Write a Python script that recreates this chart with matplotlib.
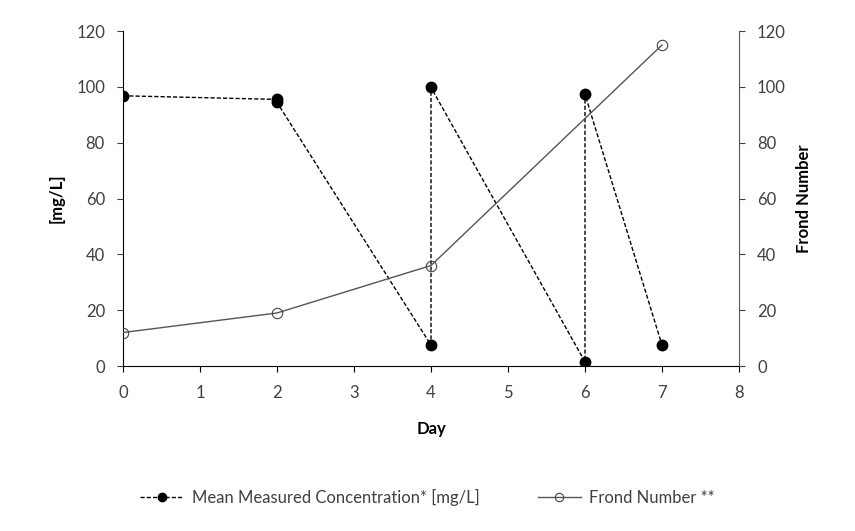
import matplotlib.pyplot as plt

plt.rcParams['font.family'] = ['Lato', 'DejaVu Sans']

# Mean measured concentration (fresh / aged media, so repeated days)
conc_day = [0, 2, 2, 4, 4, 6, 6, 7]
conc_val = [96.8, 95.5, 94.4, 7.5, 99.8, 1.5, 97.3, 7.5]

# Frond number
frond_day = [0, 2, 4, 7]
frond_val = [12, 19, 36, 115]

fig = plt.figure(figsize=(8.55, 5.31), dpi=100)
ax = fig.add_axes([0.1439, 0.3107, 0.7204, 0.6309])
ax2 = ax.twinx()

l1, = ax.plot(conc_day, conc_val, color='black', linestyle='--', dashes=(3, 1.5),
              linewidth=1.0, marker='o', markersize=7.5, markerfacecolor='black',
              markeredgecolor='black', label='Mean Measured Concentration* [mg/L]', zorder=3)
l2, = ax2.plot(frond_day, frond_val, color='#555555', linewidth=1.0, marker='o',
               markersize=7.5, markerfacecolor='none', markeredgecolor='#444444',
               markeredgewidth=0.8, label='Frond Number **')

ax.set_xlim(0, 8)
ax.set_ylim(0, 120)
ax2.set_ylim(0, 120)
ax.set_xticks(range(0, 9))
ax.set_yticks(range(0, 121, 20))
ax2.set_yticks(range(0, 121, 20))

for a in (ax, ax2):
    a.spines['top'].set_visible(False)
    a.tick_params(direction='out', length=4, width=0.8, labelsize=12, colors='#404040', pad=9)
    a.set_facecolor('none')
ax.spines['right'].set_visible(False)
ax2.spines['left'].set_visible(False)
ax2.spines['bottom'].set_visible(False)
ax.spines['left'].set_color('black')
ax.spines['bottom'].set_color('black')
ax2.spines['right'].set_color('#595959')
ax.tick_params(axis='x', colors='black', labelcolor='#404040', pad=10)

ax.set_xlabel('Day', fontsize=12, fontweight='bold', labelpad=14)
ax.set_ylabel('[mg/L]', fontsize=12, fontweight='bold', labelpad=8)
ax2.set_ylabel('Frond Number', fontsize=12, fontweight='bold', labelpad=7)

fig.legend(handles=[l1, l2], loc='center', bbox_to_anchor=(0.5, 0.064), ncol=2,
           frameon=False, fontsize=12, handlelength=2.6, handletextpad=0.5,
           columnspacing=3.5, markerscale=0.8, labelcolor='#404040')

fig.savefig('out.png', dpi=100)
